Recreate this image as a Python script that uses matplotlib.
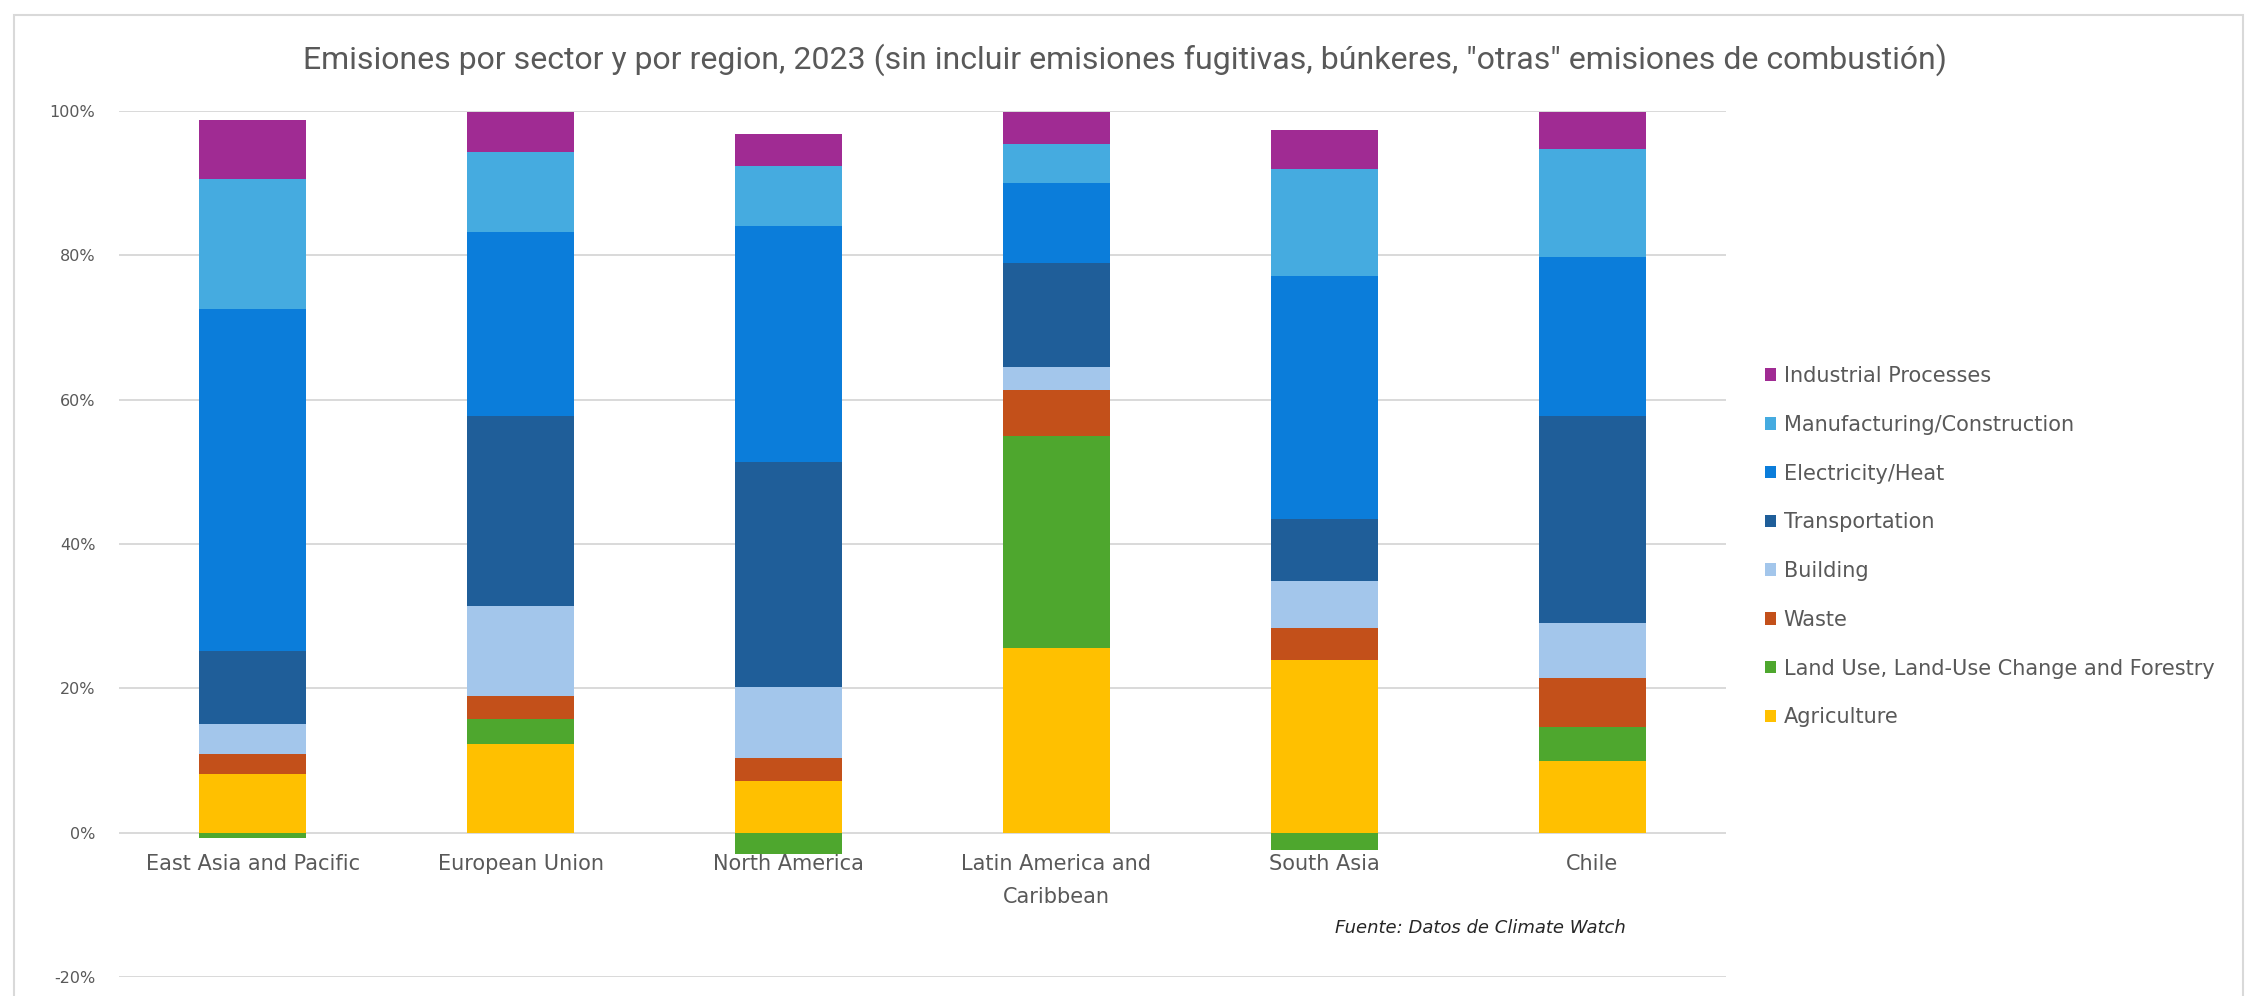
import matplotlib
matplotlib.use("Agg")
import matplotlib.pyplot as plt
import numpy as np
from matplotlib import font_manager
from matplotlib.patches import Rectangle
from matplotlib.ticker import PercentFormatter

# ---- data (share of total emissions, %) ----
regions = ["East Asia and Pacific", "European Union", "North America",
           "Latin America and\nCaribbean", "South Asia", "Chile"]
sectors = ["Agriculture", "Land Use, Land-Use Change and Forestry", "Waste",
           "Building", "Transportation", "Electricity/Heat",
           "Manufacturing/Construction", "Industrial Processes"]
agriculture = [8.1, 12.3, 7.2, 25.6, 23.9, 9.9]
land_use = [-0.8, 3.4, -2.9, 29.3, -2.4, 4.8]
waste = [2.8, 3.3, 3.2, 6.5, 4.4, 6.7]
building = [4.1, 12.4, 9.8, 3.1, 6.6, 7.6]
transportation = [10.2, 26.3, 31.2, 14.5, 8.6, 28.7]
electricity = [47.4, 25.6, 32.6, 11.0, 33.6, 22.0]
manufacturing = [18.0, 11.0, 8.4, 5.4, 14.8, 15.0]
industrial = [8.2, 5.6, 4.4, 4.5, 5.4, 5.2]
yticks = [-20, 0, 20, 40, 60, 80, 100]

series = [agriculture, land_use, waste, building, transportation,
          electricity, manufacturing, industrial]
colors = ["#FFC000", "#4EA72E", "#C3501A", "#A3C6EB", "#1F5E99",
          "#0B7DDA", "#45ABE0", "#A02B93"]

title = ('Emisiones por sector y por region, 2023 (sin incluir emisiones fugitivas, '
         'búnkeres, "otras" emisiones de combustión)')
source = "Fuente: Datos de Climate Watch"


def pick(*names):
    avail = {f.name for f in font_manager.fontManager.ttflist}
    for n in names:
        if n in avail:
            return n
    return "DejaVu Sans"


title_font = pick("Roboto", "Liberation Sans", "DejaVu Sans")
body_font = "DejaVu Sans"
plt.rcParams["axes.unicode_minus"] = False

W, H = 2246, 996
fig = plt.figure(figsize=(W / 100, H / 100), dpi=100)
fig.patch.set_facecolor("white")

ax = fig.add_axes([119 / W, 19 / H, (1726 - 119) / W, (977 - 111) / H])
x = np.arange(len(regions))
pos_base = np.zeros(len(regions))
neg_base = np.zeros(len(regions))
handles = []
for vals, col, name in zip(series, colors, sectors):
    v = np.array(vals, dtype=float)
    bottom = np.where(v >= 0, pos_base, neg_base)
    bars = ax.bar(x, v, width=0.4, bottom=bottom, color=col, label=name,
                  zorder=3, linewidth=0)
    handles.append(bars)
    pos_base = pos_base + np.where(v >= 0, v, 0)
    neg_base = neg_base + np.where(v < 0, v, 0)

ax.set_xlim(-0.5, len(regions) - 0.5)
ax.set_ylim(-20, 100)
ax.set_yticks(yticks)
ax.yaxis.set_major_formatter(PercentFormatter(decimals=0))
ax.grid(axis="y", color="#D9D9D9", linewidth=1.4, zorder=0)
for s in ["left", "right", "top"]:
    ax.spines[s].set_visible(False)
ax.spines["bottom"].set_position(("data", 0))
ax.spines["bottom"].set_visible(False)
ax.set_xticks(x)
ax.set_xticklabels(regions, fontfamily=body_font, fontsize=15,
                   color="#595959", linespacing=1.85)
ax.tick_params(axis="x", length=0, pad=15)
ax.tick_params(axis="y", length=0, pad=17, labelsize=11.5,
               labelcolor="#595959")
for t in ax.get_yticklabels():
    t.set_fontfamily(body_font)

leg = ax.legend(handles=handles[::-1], labels=sectors[::-1],
                loc="upper left", bbox_to_anchor=(1765 / W, 1 - 366 / H),
                bbox_transform=fig.transFigure, frameon=False,
                prop={"family": body_font, "size": 15},
                handlelength=0.55, handleheight=0.55, handletextpad=0.35,
                labelspacing=1.38, borderpad=0, borderaxespad=0)
for t in leg.get_texts():
    t.set_color("#595959")

fig.text(1124.5 / W, 1 - 60 / H, title, ha="center", va="center",
         fontsize=23, color="#595959", fontfamily=title_font)
fig.text(1626 / W, 1 - 928 / H, source, ha="right", va="center",
         fontsize=13, color="#262626", style="italic", fontfamily=body_font)

fig.add_artist(Rectangle((14 / W, -0.01), (2243 - 14) / W, 1 - 15 / H + 0.01,
                         transform=fig.transFigure, fill=False,
                         edgecolor="#D9D9D9", linewidth=1.5))

fig.savefig("out.png", dpi=100, facecolor="white")
